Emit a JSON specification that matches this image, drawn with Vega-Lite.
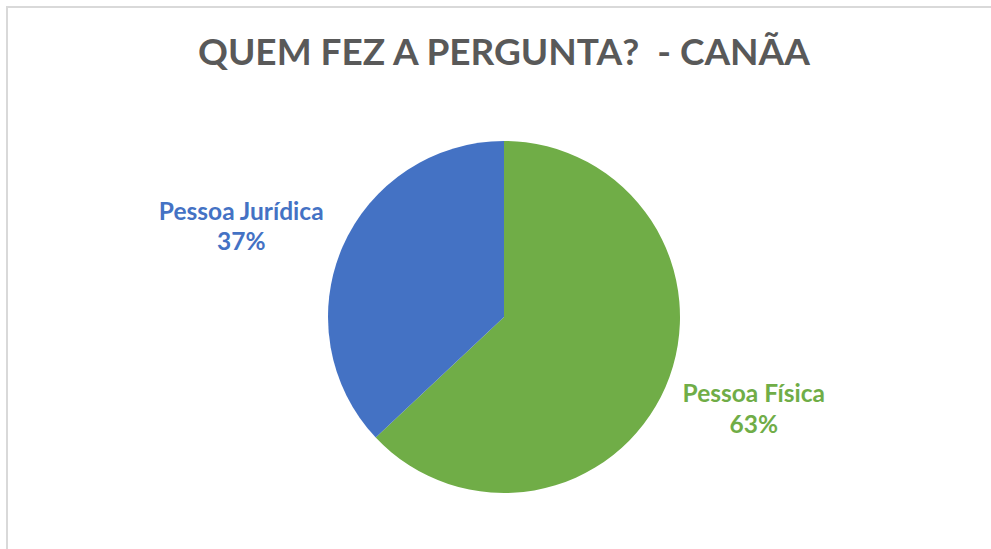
{
  "$schema": "https://vega.github.io/schema/vega-lite/v6.json",
  "autosize": "none",
  "padding": {"left": 7, "top": 7, "right": 0, "bottom": 0},
  "width": 994,
  "height": 620,
  "background": "white",
  "view": {"stroke": "#D9D9D9", "strokeWidth": 2},
  "title": {
    "text": "QUEM FEZ A PERGUNTA?\u00a0 - CANÃA",
    "font": "Lato",
    "fontSize": 37,
    "fontWeight": "bold",
    "color": "#595959",
    "anchor": "middle",
    "baseline": "alphabetic",
    "offset": -95
  },
  "data": {
    "values": [
      {"categoria": "Pessoa Física", "valor": 63, "pct": "63%", "ordem": 1},
      {"categoria": "Pessoa Jurídica", "valor": 37, "pct": "37%", "ordem": 2}
    ]
  },
  "encoding": {
    "theta": {"field": "valor", "type": "quantitative", "stack": true},
    "order": {"field": "ordem", "type": "quantitative"},
    "color": {
      "field": "categoria",
      "type": "nominal",
      "scale": {"domain": ["Pessoa Física", "Pessoa Jurídica"], "range": ["#70AD47", "#4472C4"]},
      "legend": null
    }
  },
  "layer": [
    {"mark": {"type": "arc", "outerRadius": 176}},
    {
      "mark": {"type": "text", "radius": 270, "font": "Lato", "fontSize": 24.5, "fontWeight": "bold", "baseline": "alphabetic", "align": "center", "dx": 2, "dy": -22},
      "encoding": {"text": {"condition": {"test": "datum.categoria === 'Pessoa Física'", "field": "categoria"}, "value": ""}}
    },
    {
      "mark": {"type": "text", "radius": 270, "font": "Lato", "fontSize": 24.5, "fontWeight": "bold", "baseline": "alphabetic", "align": "center", "dx": 2, "dy": 9},
      "encoding": {"text": {"condition": {"test": "datum.categoria === 'Pessoa Física'", "field": "pct"}, "value": ""}}
    },
    {
      "mark": {"type": "text", "radius": 270, "font": "Lato", "fontSize": 24.5, "fontWeight": "bold", "baseline": "alphabetic", "align": "center", "dx": -15, "dy": 10},
      "encoding": {"text": {"condition": {"test": "datum.categoria === 'Pessoa Jurídica'", "field": "categoria"}, "value": ""}}
    },
    {
      "mark": {"type": "text", "radius": 270, "font": "Lato", "fontSize": 24.5, "fontWeight": "bold", "baseline": "alphabetic", "align": "center", "dx": -15, "dy": 40},
      "encoding": {"text": {"condition": {"test": "datum.categoria === 'Pessoa Jurídica'", "field": "pct"}, "value": ""}}
    }
  ]
}
